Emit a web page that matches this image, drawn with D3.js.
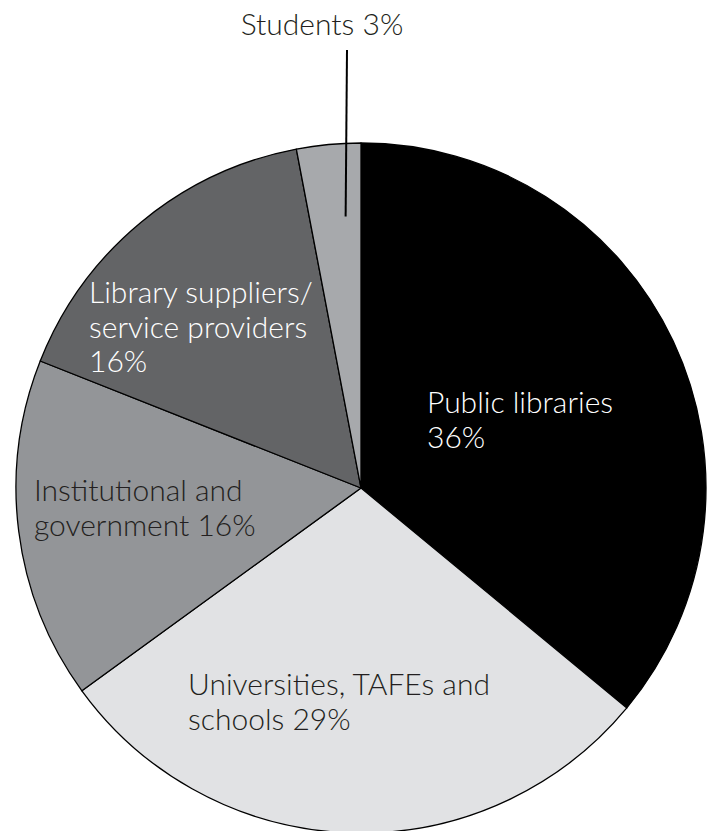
<!DOCTYPE html>
<html>
<head>
<meta charset="utf-8">
<script src="https://cdn.jsdelivr.net/npm/d3@7"></script>
<style>
  body { margin: 0; background: #fff; }
  svg text { font-family: "Lato", "Open Sans", sans-serif; font-weight: 300; }
</style>
</head>
<body>
<svg id="pie"></svg>
<script>
// Data
const categories = ["Public libraries", "Universities, TAFEs and schools", "Institutional and government", "Library suppliers/ service providers", "Students"];
const shares = [36, 29, 16, 16, 3];
const labelLines = [
  ["Public libraries", "36%"],
  ["Universities, TAFEs and", "schools 29%"],
  ["Institutional and", "government 16%"],
  ["Library suppliers/", "service providers", "16%"],
  ["Students 3%"]
];
const fills = ["#000000", "#e1e2e4", "#939598", "#636466", "#a7a9ac"];
const textFills = ["#ffffff", "#231f20", "#231f20", "#ffffff", "#231f20"];

const width = 715, height = 831;
const cx = 361, cy = 488, radius = 345;

const data = categories.map((c, i) => ({ name: c, value: shares[i], lines: labelLines[i], fill: fills[i], text: textFills[i] }));

const svg = d3.select("#pie")
  .attr("width", width)
  .attr("height", height);

const g = svg.append("g")
  .attr("transform", `translate(${cx},${cy})`);

const pie = d3.pie().sort(null).value(d => d.value);
const arc = d3.arc().innerRadius(0).outerRadius(radius);
const arcs = pie(data);

g.selectAll("path.slice")
  .data(arcs)
  .enter()
  .append("path")
  .attr("class", "slice")
  .attr("d", arc)
  .attr("fill", d => d.data.fill)
  .attr("stroke", "#000")
  .attr("stroke-width", 1.3)
  .attr("stroke-linejoin", "round");

// label anchor points (left edge of the text block, relative to the centre), hand-placed like the original
const labelPos = [
  { x: 66, y: -75, anchor: "start" },
  { x: -173, y: 207, anchor: "start" },
  { x: -327, y: 13, anchor: "start" },
  { x: -272, y: -185, anchor: "start" },
  { x: -39, y: -453, anchor: "middle" }
];
const lineHeight = 34.5;

arcs.forEach((d, i) => {
  const p = labelPos[i];
  const t = g.append("text")
    .attr("x", p.x)
    .attr("y", p.y)
    .attr("text-anchor", p.anchor)
    .attr("fill", d.data.text)
    .style("font-size", "30px");
  d.data.lines.forEach((line, j) => {
    t.append("tspan")
      .attr("x", p.x)
      .attr("dy", j === 0 ? 0 : lineHeight)
      .text(line);
  });
});

// leader line for the small Students slice
const students = arcs[4];
const leaderAngle = students.startAngle + 0.7 * (students.endAngle - students.startAngle);
const innerR = 272;
g.append("line")
  .attr("x1", innerR * Math.sin(leaderAngle))
  .attr("y1", -innerR * Math.cos(leaderAngle))
  .attr("x2", -14)
  .attr("y2", -438)
  .attr("stroke", "#000")
  .attr("stroke-width", 2);
</script>
</body>
</html>
